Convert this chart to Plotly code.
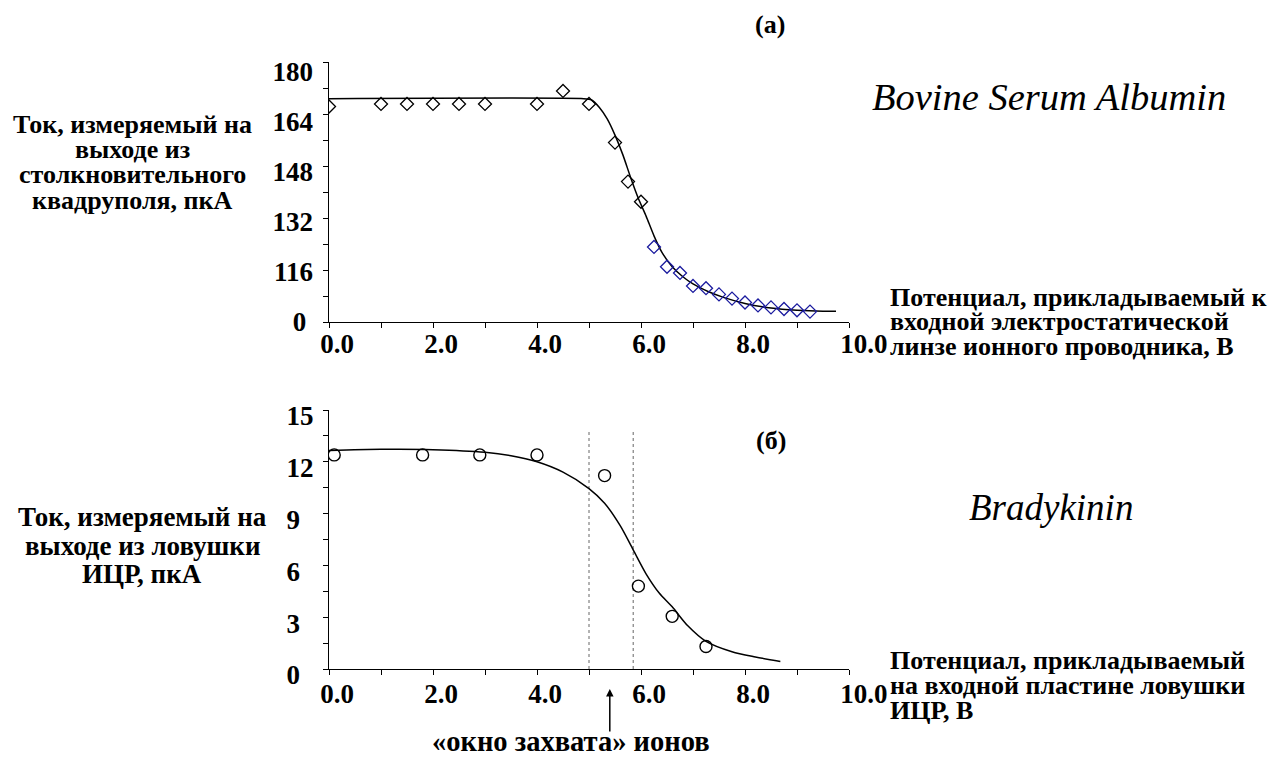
import plotly.graph_objects as go

W, H = 1277, 764
OFF = 8  # page body margin of the html page

# ---------------- data: panel (a) Bovine Serum Albumin ----------------
bsa_x_black = [0.0, 1.0, 1.5, 2.0, 2.5, 3.0, 4.0, 4.5, 5.0, 5.5, 5.75, 6.0]
bsa_y_black = [166.3, 167.1, 167.1, 167.1, 167.1, 167.1, 167.1, 171.1, 167.1, 155.2, 143.2, 137.0]
bsa_x_blue = [6.25, 6.5, 6.75, 7.0, 7.25, 7.5, 7.75, 8.0, 8.25, 8.5, 8.75, 9.0, 9.25]
bsa_y_blue = [123.1, 117.0, 115.1, 111.1, 110.4, 108.5, 107.2, 106.0, 105.1, 104.5, 104.0, 103.6, 103.2]
bsa_fit_x = [0.0, 4.9, 5.05, 5.2, 5.35, 5.5, 5.65, 5.8, 5.95, 6.1, 6.25, 6.4, 6.6, 6.8,
             7.0, 7.3, 7.6, 8.0, 8.5, 9.0, 9.5, 9.75]
bsa_fit_y = [168.7, 168.7, 168.3, 166.0, 162.5, 157.5, 151.5, 144.5, 138.0, 132.5, 126.5, 121.5,
             117.0, 114.0, 111.7, 109.3, 107.5, 105.7, 104.3, 103.6, 103.3, 103.3]

# ---------------- data: panel (б) Bradykinin ----------------
bk_x = [0.1, 1.8, 2.9, 4.0, 5.3, 5.95, 6.6, 7.25]
bk_y = [12.4, 12.4, 12.4, 12.4, 11.2, 4.8, 3.05, 1.3]
bk_fit_x = [0.0, 1.0, 2.0, 3.0, 3.5, 4.0, 4.5, 5.0, 5.3, 5.6, 5.85, 6.1, 6.35, 6.6,
            6.9, 7.25, 7.75, 8.2, 8.68]
bk_fit_y = [12.65, 12.72, 12.7, 12.55, 12.35, 12.0, 11.4, 10.45, 9.6, 8.3, 6.9, 5.5, 4.4, 3.6,
            2.5, 1.6, 1.0, 0.7, 0.44]
window_x = [5.0, 5.85]
window_top = 13.85
arrow_x = 5.4

# ---------------- ticks ----------------
x_tickvals = [0, 1, 2, 3, 4, 5, 6, 7, 8, 9, 10]
x_ticktext = ["0.0", "", "2.0", "", "4.0", "", "6.0", "", "8.0", "", "\u200210.0"]
top_y_tickvals = [100, 108, 116, 124, 132, 140, 148, 156, 164, 172, 180]
top_y_ticktext = ["0\u2008", "", "116", "", "132", "", "148", "", "164", "", "180"]
bot_y_tickvals = [0, 1.5, 3, 4.5, 6, 7.5, 9, 10.5, 12, 13.5, 15]
bot_y_ticktext = ["0\u2007", "", "3\u2007", "", "6\u2007", "", "9\u2007", "", "12", "", "15"]

# ---------------- texts ----------------
top_ytitle = ["Ток, измеряемый на", "выходе из", "столкновительного", "квадруполя, пкА"]
bot_ytitle = ["Ток, измеряемый на", "выходе из ловушки", "ИЦР, пкА"]
top_xtitle = ["Потенциал, прикладываемый к", "входной электростатической",
              "линзе ионного проводника, В"]
bot_xtitle = ["Потенциал, прикладываемый", "на входной пластине ловушки", "ИЦР, В"]

FONT = "Liberation Serif"


def px(x):
    return (x - OFF) / W


def py(y):
    return 1 - (y - OFF) / H


def txt(x, y, s, size, bold=True, italic=False, xanchor="center"):
    return dict(x=px(x), y=py(y), xref="paper", yref="paper", text=s, showarrow=False,
                xanchor=xanchor, yanchor="middle",
                font=dict(family=FONT, size=size, color="black",
                          weight=700 if bold else 400,
                          style="italic" if italic else "normal"))


fig = go.Figure()

# panel (a)
fig.add_trace(go.Scatter(x=bsa_fit_x, y=bsa_fit_y, mode="lines", line=dict(color="black", width=1.5, shape="spline", smoothing=0.6),
                         xaxis="x", yaxis="y", showlegend=False, hoverinfo="skip"))
fig.add_trace(go.Scatter(x=bsa_x_black, y=bsa_y_black, mode="markers",
                         marker=dict(symbol="diamond-open", size=10, color="black", line=dict(width=1.3, color="black")),
                         xaxis="x", yaxis="y", showlegend=False))
fig.add_trace(go.Scatter(x=bsa_x_blue, y=bsa_y_blue, mode="markers",
                         marker=dict(symbol="diamond-open", size=10, color="#1a1a9e", line=dict(width=1.3, color="#1a1a9e")),
                         xaxis="x", yaxis="y", showlegend=False))
# carrier for the label-only value axis of panel (a)
fig.add_trace(go.Scatter(x=[None], y=[None], mode="markers", xaxis="x", yaxis="y3",
                         showlegend=False, hoverinfo="skip"))

# panel (б)
for wx in window_x:
    fig.add_trace(go.Scatter(x=[wx, wx], y=[0, window_top], mode="lines",
                             line=dict(color="#666666", width=1, dash="dot"),
                             xaxis="x2", yaxis="y2", showlegend=False, hoverinfo="skip"))
fig.add_trace(go.Scatter(x=bk_fit_x, y=bk_fit_y, mode="lines", line=dict(color="black", width=1.5, shape="spline", smoothing=0.8),
                         xaxis="x2", yaxis="y2", showlegend=False, hoverinfo="skip"))
fig.add_trace(go.Scatter(x=bk_x, y=bk_y, mode="markers",
                         marker=dict(symbol="circle-open", size=12, color="black", line=dict(width=1.4, color="black")),
                         xaxis="x2", yaxis="y2", showlegend=False))

X0, X1 = 329, 849
TICKFONT = dict(family=FONT, size=27, color="black", weight=700)
axis_common = dict(showline=True, linecolor="black", linewidth=1, showgrid=False, zeroline=False,
                   ticks="outside", ticklen=5, tickwidth=1, tickcolor="black",
                   tickfont=TICKFONT)

fig.update_layout(
    width=W, height=H, margin=dict(l=0, r=0, t=0, b=0, autoexpand=False),
    paper_bgcolor="white", plot_bgcolor="rgba(0,0,0,0)",
    xaxis=dict(domain=[px(X0), px(X1)], range=[0, 10], anchor="y", tickmode="array",
               tickvals=x_tickvals, ticktext=x_ticktext, ticklabelshift=8,
               ticklabelstandoff=-7, **axis_common),
    yaxis=dict(domain=[py(322), py(62)], range=[100, 180], anchor="x", tickmode="array",
               tickvals=top_y_tickvals, showticklabels=False, **axis_common),
    # label-only axis: the printed labels of panel (a) sit on a slightly tighter pitch
    yaxis3=dict(domain=[py(312), py(62)], range=[100, 180], anchor="x", tickmode="array",
                tickvals=top_y_tickvals, ticktext=top_y_ticktext, showline=False, ticks="",
                showgrid=False, zeroline=False, ticklabelshift=10, ticklabelstandoff=15,
                tickfont=TICKFONT),
    xaxis2=dict(domain=[px(X0), px(X1)], range=[0, 10], anchor="y2", tickmode="array",
                tickvals=x_tickvals, ticktext=x_ticktext, ticklabelshift=8,
                ticklabelstandoff=-4, **axis_common),
    yaxis2=dict(domain=[py(669), py(410)], range=[0, 15], anchor="x2", tickmode="array",
                tickvals=bot_y_tickvals, ticktext=bot_y_ticktext, ticklabelshift=6,
                ticklabelstandoff=4, **axis_common),
)

ann = []
for i, s in enumerate(top_ytitle):
    ann.append(txt(132, 124 + i * 25.5, s, 26))
for i, s in enumerate(bot_ytitle):
    ann.append(txt(142, 517 + i * 28.5, s, 27))
for i, s in enumerate(top_xtitle):
    ann.append(txt(888, 297 + i * 25, s, 26, xanchor="left"))
for i, s in enumerate(bot_xtitle):
    ann.append(txt(888, 660 + i * 25, s, 26, xanchor="left"))
ann.append(txt(770, 24, "(a)", 26))
ann.append(txt(771, 440, "(б)", 26))
ann.append(txt(1049, 97, "Bovine Serum Albumin", 38.5, bold=False, italic=True))
ann.append(txt(1051, 507, "Bradykinin", 37, bold=False, italic=True))
ann.append(txt(571, 741, "«окно захвата» ионов", 28.5))
ann.append(dict(x=arrow_x, y=py(689), xref="x2", yref="paper", text="", showarrow=True,
                ax=0, ay=44, axref="pixel", ayref="pixel", arrowhead=2, arrowsize=1,
                arrowwidth=1.5, arrowcolor="black"))
fig.update_layout(annotations=ann)

fig.write_html("out.html", config={"displayModeBar": False})
